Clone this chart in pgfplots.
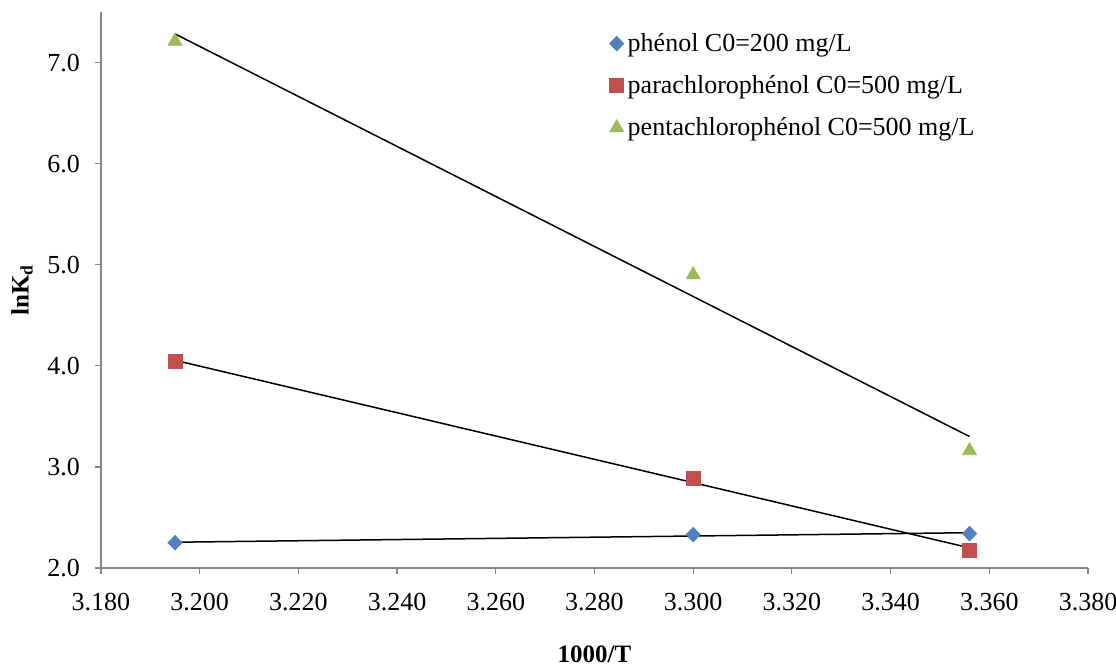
\documentclass[border=0pt]{standalone}
\usepackage{fontspec}
\setmainfont{Liberation Serif}
\usepackage{pgfplots}
\usepackage{pgfplotstable}
\pgfplotsset{compat=1.18}

\definecolor{xlblue}{HTML}{4F81BD}
\definecolor{xlred}{HTML}{C0504D}
\definecolor{xlgreen}{HTML}{9BBB59}
\definecolor{axgray}{HTML}{868686}

% 1000/T  lnKd
\pgfplotstableread{
x y
3.195 2.25
3.300 2.33
3.356 2.34
}\phenol
\pgfplotstableread{
x y
3.195 4.04
3.300 2.89
3.356 2.17
}\para
\pgfplotstableread{
x y
3.195 7.21
3.300 4.90
3.356 3.16
}\penta

\begin{document}
\begin{tikzpicture}[font=\fontsize{13}{15}\selectfont]
\useasboundingbox (-50.5pt,-50.5pt) rectangle (507.5pt,284pt);
\begin{axis}[
  scale only axis,
  width=493.5pt, height=278pt,
  xmin=3.18, xmax=3.38, ymin=2, ymax=7.5,
  xtick={3.18,3.20,3.22,3.24,3.26,3.28,3.30,3.32,3.34,3.36,3.38},
  ytick={2,3,4,5,6,7},
  axis lines*=left,
  axis line style={draw=axgray, line width=0.7pt},
  tick align=outside,
  major tick length=3pt,
  tick style={draw=axgray, line width=0.6pt},
  /pgf/number format/assume math mode=true,
  x tick label style={/pgf/number format/.cd, fixed, fixed zerofill, precision=3, /tikz/.cd, yshift=-6pt},
  y tick label style={/pgf/number format/.cd, fixed, fixed zerofill, precision=1, /tikz/.cd, xshift=-4pt},
  xlabel={\textbf{1000/T}},
  ylabel={\textbf{lnK\textsubscript{d}}},
  xlabel style={at={(axis description cs:0.5,-0.156)}, anchor=center, font=\fontsize{12.5}{14}\selectfont},
  ylabel style={at={(axis description cs:-0.080,0.5)}, anchor=center, font=\fontsize{12.5}{14}\selectfont},
  legend style={draw=none, fill=none, at={(0.515,0.97)}, anchor=north west,
                font=\fontsize{13}{15}\selectfont, row sep=6.5pt,
                inner sep=0pt},
  legend cell align=left,
  clip=false,
]
\addplot[only marks, mark=diamond*, mark size=3.6pt, mark options={xscale=1.3}, color=xlblue] table[x=x,y=y] {\phenol};
\addlegendentry{phénol C0=200 mg/L}
\addplot[only marks, mark=square*, mark size=3.5pt, color=xlred] table[x=x,y=y] {\para};
\addlegendentry{parachlorophénol C0=500 mg/L}
\addplot[only marks, mark=triangle*, mark size=4pt, color=xlgreen] table[x=x,y=y] {\penta};
\addlegendentry{pentachlorophénol C0=500 mg/L}

\addplot[black, line width=0.75pt, no markers, forget plot] table[x=x, y={create col/linear regression={y=y}}] {\phenol};
\addplot[black, line width=0.75pt, no markers, forget plot] table[x=x, y={create col/linear regression={y=y}}] {\para};
\addplot[black, line width=0.75pt, no markers, forget plot] table[x=x, y={create col/linear regression={y=y}}] {\penta};
\end{axis}
\end{tikzpicture}
\end{document}
